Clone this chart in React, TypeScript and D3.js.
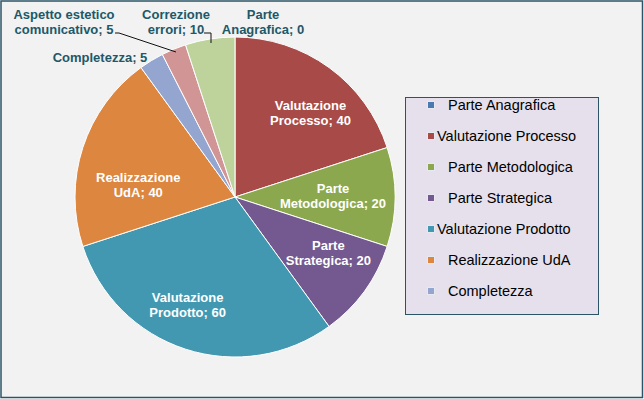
import * as d3 from 'd3';

const categories = [
  'Parte Anagrafica',
  'Valutazione Processo',
  'Parte Metodologica',
  'Parte Strategica',
  'Valutazione Prodotto',
  'Realizzazione UdA',
  'Completezza',
  'Aspetto estetico comunicativo',
  'Correzione errori',
];
const values = [0, 40, 20, 20, 60, 40, 5, 5, 10];
const colors = [
  '#4A7AB0', '#A84A47', '#8CA84E', '#73598F', '#4298B1',
  '#DC8640', '#94A6CF', '#D09594', '#BDD39B',
];
// Excel legend only had room for the first seven entries
const legendCount = 7;

const W = 644;
const H = 399;
const cx = 235;
const cy = 197;
const R = 160;

// inside labels: nudge from the centroid ring
const insideNudge: Record<string, [number, number]> = {
  'Valutazione Processo': [12, 3],
  'Parte Metodologica': [-10, -1.5],
  'Parte Strategica': [6, -7.5],
  'Valutazione Prodotto': [-14, 5],
  'Realizzazione UdA': [6, 21],
};
// outside labels: block centers
const outsidePos: Record<string, [number, number]> = {
  'Parte Anagrafica': [263, 22],
  'Completezza': [100, 57],
  'Aspetto estetico comunicativo': [64, 22],
  'Correzione errori': [176, 22],
};
const leaders: Record<string, [number, number][]> = {
  'Aspetto estetico comunicativo': [[115, 33], [119, 33], [176, 52]],
  'Correzione errori': [[204, 33], [211, 33], [211, 43]],
};

function labelLines(name: string, v: number): string[] {
  const words = name.split(' ');
  if (words.length === 1) return [`${name}; ${v}`];
  const last = words.pop();
  return [words.join(' '), `${last}; ${v}`];
}

export default function App() {
  const pie = d3.pie<number>().sort(null).value((d) => d).startAngle(0).endAngle(2 * Math.PI);
  const arcs = pie(values);
  const arc = d3.arc<d3.PieArcDatum<number>>().innerRadius(0).outerRadius(R);
  const labelArc = d3.arc<d3.PieArcDatum<number>>().innerRadius(108 * 2).outerRadius(0);
  const line = d3.line();

  const legendY = d3.scaleLinear().domain([0, 1]).range([105, 136]);

  return (
    <div style={{ position: 'fixed', left: 0, top: 0 }}>
      <svg width={W} height={H} style={{ display: 'block' }} fontFamily="'Liberation Sans', Arial, sans-serif">
        <rect x={1} y={1} width={W - 2.5} height={H - 2.5} fill="#F2F2F2" stroke="#2B5466" strokeWidth={1.5} />
        <g transform={`translate(${cx},${cy})`}>
          {arcs.map((a, i) => (
            <path key={i} d={arc(a) || ''} fill={colors[i]} stroke="#fff" strokeWidth={1} />
          ))}
        </g>
        {Object.entries(leaders).map(([k, pts]) => (
          <path key={k} d={line(pts) || ''} fill="none" stroke="#111" strokeWidth={1} />
        ))}
        {arcs.map((a, i) => {
          const name = categories[i];
          const lines = labelLines(name, values[i]);
          let x: number;
          let y: number;
          let fill: string;
          if (outsidePos[name]) {
            [x, y] = outsidePos[name];
            fill = '#215868';
          } else {
            const [bx, by] = labelArc.centroid(a);
            const n = insideNudge[name] || [0, 0];
            x = cx + bx + n[0];
            y = cy + by + n[1];
            fill = '#fff';
          }
          const lh = 15;
          const y0 = y - ((lines.length - 1) * lh) / 2;
          return (
            <text key={name} x={x} fill={fill} fontSize={13} fontWeight="bold" textAnchor="middle">
              {lines.map((t, j) => (
                <tspan key={j} x={x} y={y0 + j * lh} dy="0.35em">{t}</tspan>
              ))}
            </text>
          );
        })}
        <rect x={405.5} y={97.5} width={193} height={217} fill="#E6E0EC" stroke="#2B5466" strokeWidth={1} />
        {categories.slice(0, legendCount).map((c, i) => {
          const y = legendY(i);
          return (
            <g key={c}>
              <rect x={427.5} y={y - 3.5} width={7} height={7} fill={colors[i]} stroke="#E8E8F0" strokeWidth={1} />
              <text x={c.length > 18 ? 437 : 448} y={y} dy="0.35em" fontSize={14.5} fill="#000">{c}</text>
            </g>
          );
        })}
      </svg>
    </div>
  );
}
